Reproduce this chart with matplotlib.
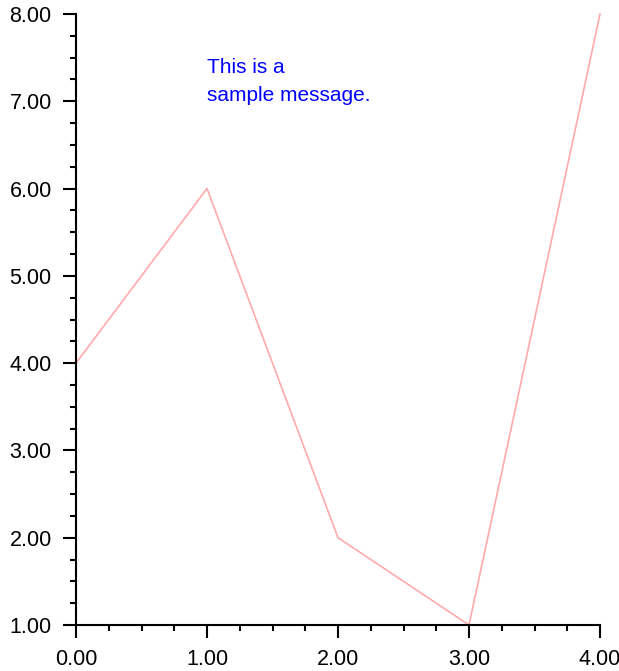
import matplotlib.pyplot as plt
from matplotlib.ticker import MultipleLocator, FormatStrFormatter

x_vals = [0, 1, 2, 3, 4]
y_vals = [4, 6, 2, 1, 8]
message = "This is a\nsample message."

plt.rcParams['font.family'] = ['Liberation Sans', 'DejaVu Sans']

fig = plt.figure(figsize=(6.19, 6.71), dpi=100)
ax = fig.add_axes([76 / 619, 46 / 671, 524 / 619, 611 / 671])

ax.plot(x_vals, y_vals, color='#ffaaaa', linewidth=1.2, clip_on=False)
ax.text(1.0, 7.5, message, color='#0000ff', fontsize=15, va='top', ha='left',
        linespacing=1.6)

ax.set_xlim(0, 4)
ax.set_ylim(1, 8)
ax.spines['top'].set_visible(False)
ax.spines['right'].set_visible(False)
for s in ('left', 'bottom'):
    ax.spines[s].set_linewidth(1.5)

ax.xaxis.set_major_locator(MultipleLocator(1))
ax.xaxis.set_minor_locator(MultipleLocator(0.25))
ax.yaxis.set_major_locator(MultipleLocator(1))
ax.yaxis.set_minor_locator(MultipleLocator(0.25))
ax.xaxis.set_major_formatter(FormatStrFormatter('%.2f'))
ax.yaxis.set_major_formatter(FormatStrFormatter('%.2f'))

ax.tick_params(which='major', length=9.5, width=1.5, labelsize=15.5, pad=8)
ax.tick_params(which='minor', length=4.5, width=1.5)
ax.tick_params(axis='y', which='major', pad=8)

fig.savefig('out.png', dpi=100)
